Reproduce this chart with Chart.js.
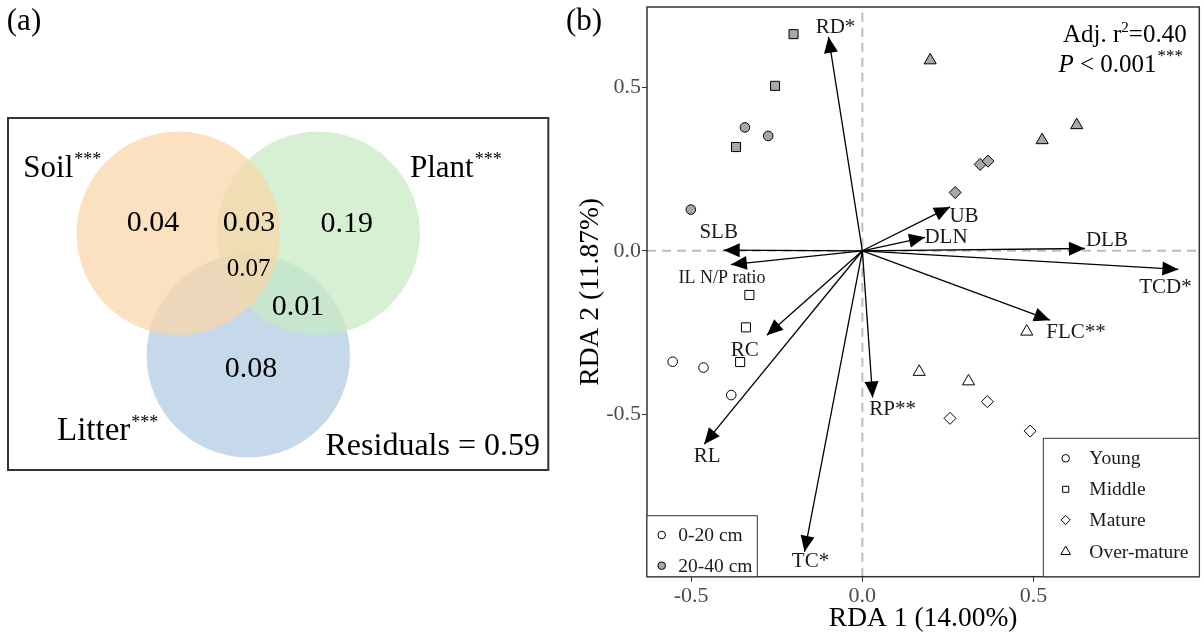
<!DOCTYPE html>
<html>
<head>
<meta charset="utf-8">
<script src="https://cdn.jsdelivr.net/npm/chart.js@4.4.0/dist/chart.umd.min.js"></script>
<style>
  body { margin: 0; background: #fff; width: 1204px; height: 636px; overflow: hidden; position: relative; }
  #wrapA { position: absolute; left: 0; top: 0; }
  #wrapB { position: absolute; left: 560px; top: 0; }
</style>
</head>
<body>
<div id="wrapA"><canvas id="venn" width="560" height="636"></canvas></div>
<div id="wrapB"><canvas id="rda" width="644" height="636"></canvas></div>
<script>
const SERIF = '"Liberation Serif", "Times New Roman", serif';

// ---------- panel (a): variation partitioning
const vennSets = ['Soil', 'Plant', 'Litter'];
const vennSig = ['***', '***', '***'];
const vennFractions = ['0.04', '0.03', '0.19', '0.07', '0.01', '0.08'];
const vennResidual = '0.59';

// ---------- panel (b): RDA site scores (RDA1, RDA2)
const young020 = [[-0.554, -0.339], [-0.464, -0.357], [-0.383, -0.441]];
const young2040 = [[-0.343, 0.377], [-0.275, 0.351], [-0.501, 0.126]];
const middle020 = [[-0.330, -0.135], [-0.340, -0.234], [-0.357, -0.340]];
const middle2040 = [[-0.201, 0.662], [-0.255, 0.504], [-0.369, 0.317]];
const mature020 = [[0.365, -0.461], [0.256, -0.512], [0.490, -0.551]];
const mature2040 = [[0.344, 0.264], [0.367, 0.274], [0.271, 0.178]];
const over020 = [[0.166, -0.370], [0.310, -0.399], [0.480, -0.247]];
const over2040 = [[0.198, 0.582], [0.626, 0.384], [0.525, 0.338]];

// environmental vectors
const envNames = ['RD*', 'SLB', 'IL N/P ratio', 'UB', 'DLN', 'DLB', 'TCD*', 'FLC**', 'RC', 'RL', 'TC*', 'RP**'];
const envRDA1 = [-0.099, -0.405, -0.384, 0.256, 0.183, 0.650, 0.923, 0.548, -0.279, -0.462, -0.169, 0.030];
const envRDA2 = [0.654, 0.002, -0.042, 0.134, 0.041, 0.007, -0.057, -0.212, -0.258, -0.591, -0.920, -0.448];

const ageGroups = ['Young', 'Middle', 'Mature', 'Over-mature'];
const depthGroups = ['0-20 cm', '20-40 cm'];
const xTicks = [-0.5, 0.0, 0.5];
const yTicks = [-0.5, 0.0, 0.5];
const xTitle = 'RDA 1 (14.00%)';
const yTitle = 'RDA 2 (11.87%)';

// ---------- layout / styles
const xRange = [-0.629, 0.984];
const yRange = [-0.996, 0.745];
const shapes = { 'Young': ['circle', 4.8], 'Middle': ['rect', 6.4], 'Mature': ['rectRot', 6], 'Over-mature': ['triangle', 7] };
const depthFill = { '0-20 cm': '#ffffff', '20-40 cm': '#a8a8a8' };
const labelOffset = {
  'RD*': [7, -9], 'SLB': [-5, -18], 'IL N/P ratio': [-9, 14], 'UB': [14, 10], 'DLN': [21, 0],
  'DLB': [22, -8], 'TCD*': [-13, 18], 'FLC**': [26, 12], 'RC': [-22, 15], 'RL': [3, 12],
  'TC*': [6, 10], 'RP**': [20, 12]
};

// venn geometry in box units (pixels inside the frame)
const vennCircles = [[170.3, 115.3], [310.3, 115.3], [240.3, 237.7]];
const vennRadius = 101.7;
const vennColors = ['rgba(251,214,168,0.72)', 'rgba(200,234,196,0.72)', 'rgba(176,202,226,0.72)'];
const vennFracPos = [[145, 105, 30], [241, 105, 30], [338.7, 106, 30], [240.5, 151, 25], [290, 189, 30], [243, 251, 30]];
const vennLabelPos = [[15.3, 59, 31], [402, 58.7, 31], [49, 322, 33]];

// ---------- panel (a)
const vennText = {
  id: 'vennText',
  afterDraw(chart) {
    const { ctx, chartArea: a, scales: { x, y } } = chart;
    ctx.save();
    ctx.strokeStyle = '#333';
    ctx.lineWidth = 2;
    ctx.strokeRect(a.left, a.top, a.right - a.left, a.bottom - a.top);
    ctx.fillStyle = '#000';
    ctx.textAlign = 'center';
    ctx.textBaseline = 'middle';
    vennFractions.forEach((f, i) => {
      const p = vennFracPos[i];
      ctx.font = p[2] + 'px ' + SERIF;
      ctx.fillText(f, x.getPixelForValue(p[0]), y.getPixelForValue(p[1]));
    });
    ctx.textAlign = 'left';
    ctx.textBaseline = 'alphabetic';
    vennSets.forEach((s, i) => {
      const p = vennLabelPos[i];
      const px = x.getPixelForValue(p[0]), py = y.getPixelForValue(p[1]);
      ctx.font = p[2] + 'px ' + SERIF;
      ctx.fillText(s, px, py);
      const w = ctx.measureText(s).width;
      ctx.font = '18px ' + SERIF;
      ctx.fillText(vennSig[i], px + w + 1, py - 12);
    });
    ctx.textAlign = 'right';
    ctx.font = '32px ' + SERIF;
    ctx.fillText('Residuals = ' + vennResidual, x.getPixelForValue(532), y.getPixelForValue(337));
    ctx.textAlign = 'center';
    ctx.textBaseline = 'middle';
    ctx.font = '31px ' + SERIF;
    ctx.fillText('(a)', 24, 22);
    ctx.restore();
  }
};

new Chart(document.getElementById('venn'), {
  type: 'bubble',
  data: {
    datasets: vennSets.map((s, i) => ({
      label: s,
      data: [{ x: vennCircles[i][0], y: vennCircles[i][1], r: vennRadius }],
      backgroundColor: vennColors[i],
      borderWidth: 0,
      clip: false
    }))
  },
  options: {
    responsive: false,
    animation: false,
    events: [],
    layout: { autoPadding: false, padding: { left: 8, top: 118, right: 11.7, bottom: 166 } },
    plugins: { legend: { display: false }, tooltip: { enabled: false } },
    scales: {
      x: { display: false, min: 0, max: 540.3 },
      y: { display: false, min: 0, max: 352, reverse: true }
    }
  },
  plugins: [vennText]
});

// ---------- panel (b)
function drawSymbol(ctx, style, r, x, y, fill) {
  ctx.save();
  ctx.fillStyle = fill;
  ctx.strokeStyle = '#000';
  ctx.lineWidth = 1;
  if (Chart.helpers && Chart.helpers.drawPoint) {
    Chart.helpers.drawPoint(ctx, { pointStyle: style, radius: r, rotation: 0, borderWidth: 1 }, x, y);
  } else {
    ctx.beginPath();
    ctx.arc(x, y, r, 0, Math.PI * 2);
    ctx.fill();
    ctx.stroke();
  }
  ctx.restore();
}

const rdaDecor = {
  id: 'rdaDecor',
  afterDatasetsDraw(chart) {
    const { ctx } = chart;
    ctx.save();
    // arrow heads and labels
    chart.data.datasets.forEach((ds, i) => {
      if (!ds.envName) return;
      const pts = chart.getDatasetMeta(i).data;
      const p0 = pts[0], p1 = pts[1];
      const ang = Math.atan2(p1.y - p0.y, p1.x - p0.x);
      const L = 16, W = 7;
      ctx.fillStyle = '#000';
      ctx.beginPath();
      ctx.moveTo(p1.x, p1.y);
      ctx.lineTo(p1.x - L * Math.cos(ang) + W * Math.sin(ang), p1.y - L * Math.sin(ang) - W * Math.cos(ang));
      ctx.lineTo(p1.x - L * Math.cos(ang) - W * Math.sin(ang), p1.y - L * Math.sin(ang) + W * Math.cos(ang));
      ctx.closePath();
      ctx.fill();
      const off = labelOffset[ds.envName];
      ctx.fillStyle = '#1a1a1a';
      ctx.font = (ds.envName === 'IL N/P ratio' ? '18px ' : '21px ') + SERIF;
      ctx.textAlign = 'center';
      ctx.textBaseline = 'middle';
      ctx.fillText(ds.envName, p1.x + off[0], p1.y + off[1]);
    });
    ctx.restore();
  },
  afterDraw(chart) {
    const { ctx, chartArea: a } = chart;
    ctx.save();
    // frame
    ctx.strokeStyle = '#333';
    ctx.lineWidth = 1.5;
    ctx.strokeRect(a.left, a.top, a.right - a.left, a.bottom - a.top);

    // depth legend (bottom-left)
    ctx.fillStyle = '#fff';
    ctx.lineWidth = 1;
    ctx.fillRect(a.left, 515.7, 110.3, a.bottom - 515.7);
    ctx.strokeRect(a.left, 515.7, 110.3, a.bottom - 515.7);
    ctx.font = '19.5px ' + SERIF;
    ctx.textAlign = 'left';
    ctx.textBaseline = 'middle';
    depthGroups.forEach((d, i) => {
      const yy = [535, 565.7][i];
      drawSymbol(ctx, 'circle', 3.8, 101.7, yy, depthFill[d]);
      ctx.fillStyle = '#1a1a1a';
      ctx.fillText(d, 118.3, yy + 1);
    });

    // age legend (bottom-right)
    ctx.fillStyle = '#fff';
    ctx.fillRect(483.3, 438.3, a.right - 483.3, a.bottom - 438.3);
    ctx.strokeStyle = '#333';
    ctx.strokeRect(483.3, 438.3, a.right - 483.3, a.bottom - 438.3);
    const legR = { 'Young': 3.8, 'Middle': 4.3, 'Mature': 4.6, 'Over-mature': 5.6 };
    ageGroups.forEach((g, i) => {
      const yy = [458.3, 489.3, 520, 551.7][i];
      drawSymbol(ctx, shapes[g][0], legR[g], 505.7, yy, '#fff');
      ctx.fillStyle = '#1a1a1a';
      ctx.fillText(g, 529.3, yy + 1);
    });

    // fit statistics
    ctx.fillStyle = '#000';
    ctx.textAlign = 'right';
    ctx.textBaseline = 'alphabetic';
    ctx.font = '25px ' + SERIF;
    let xr = 626.7;
    ctx.fillText('=0.40', xr, 41.7);
    xr -= ctx.measureText('=0.40').width;
    ctx.font = '15px ' + SERIF;
    ctx.fillText('2', xr, 32);
    xr -= ctx.measureText('2').width;
    ctx.font = '25px ' + SERIF;
    ctx.fillText('Adj. r', xr, 41.7);

    xr = 623;
    ctx.font = '17px ' + SERIF;
    ctx.fillText('***', xr, 61);
    xr -= ctx.measureText('***').width + 1;
    ctx.font = '25px ' + SERIF;
    ctx.fillText(' < 0.001', xr, 71.7);
    xr -= ctx.measureText(' < 0.001').width;
    ctx.font = 'italic 25px ' + SERIF;
    ctx.fillText('P', xr, 71.7);

    ctx.textAlign = 'center';
    ctx.textBaseline = 'middle';
    ctx.font = '31px ' + SERIF;
    ctx.fillText('(b)', 24, 22);
    ctx.restore();
  }
};

const siteGroups = [
  ['Young', '0-20 cm', young020], ['Young', '20-40 cm', young2040],
  ['Middle', '0-20 cm', middle020], ['Middle', '20-40 cm', middle2040],
  ['Mature', '0-20 cm', mature020], ['Mature', '20-40 cm', mature2040],
  ['Over-mature', '0-20 cm', over020], ['Over-mature', '20-40 cm', over2040]
];

const datasets = [];
// dashed zero lines
datasets.push({
  data: [{ x: xRange[0], y: 0 }, { x: xRange[1], y: 0 }],
  showLine: true, pointRadius: 0, borderColor: '#bdbdbd', borderWidth: 2, borderDash: [9, 6], order: 20
});
datasets.push({
  data: [{ x: 0, y: yRange[0] }, { x: 0, y: yRange[1] }],
  showLine: true, pointRadius: 0, borderColor: '#bdbdbd', borderWidth: 2, borderDash: [9, 6], order: 20
});
// vectors
envNames.forEach((n, i) => {
  datasets.push({
    envName: n,
    data: [{ x: 0, y: 0 }, { x: envRDA1[i], y: envRDA2[i] }],
    showLine: true, pointRadius: 0, borderColor: '#000', borderWidth: 1.3, order: 10
  });
});
// sites
siteGroups.forEach(([age, depth, pts]) => {
  datasets.push({
    label: age + ' ' + depth,
    data: pts.map(p => ({ x: p[0], y: p[1] })),
    showLine: false,
    pointStyle: shapes[age][0],
    pointRadius: shapes[age][1],
    backgroundColor: depthFill[depth],
    borderColor: '#000',
    borderWidth: 1,
    order: 1
  });
});

new Chart(document.getElementById('rda'), {
  type: 'scatter',
  data: { datasets },
  options: {
    responsive: false,
    animation: false,
    events: [],
    layout: { autoPadding: false, padding: { left: 0, top: 7, right: 4.7, bottom: 0 } },
    plugins: { legend: { display: false }, tooltip: { enabled: false } },
    scales: {
      x: {
        type: 'linear', min: xRange[0], max: xRange[1],
        afterFit: s => { s.height = 59.3; s.paddingLeft = 0; s.paddingRight = 0; },
        afterBuildTicks: s => { s.ticks = xTicks.map(v => ({ value: v })); },
        ticks: { font: { family: SERIF, size: 22 }, color: '#4d4d4d', padding: 1, callback: v => v.toFixed(1) },
        grid: { drawOnChartArea: false, drawTicks: true, tickLength: 5, color: '#333' },
        border: { display: false },
        title: { display: true, text: xTitle, font: { family: SERIF, size: 27.5 }, color: '#000', padding: { top: 0, bottom: 1 } }
      },
      y: {
        type: 'linear', min: yRange[0], max: yRange[1],
        afterFit: s => { s.width = 87; s.paddingTop = 0; s.paddingBottom = 0; },
        afterBuildTicks: s => { s.ticks = yTicks.map(v => ({ value: v })); },
        ticks: { font: { family: SERIF, size: 22 }, color: '#4d4d4d', padding: 1, callback: v => v.toFixed(1) },
        grid: { drawOnChartArea: false, drawTicks: true, tickLength: 5, color: '#333' },
        border: { display: false },
        title: { display: true, text: yTitle, font: { family: SERIF, size: 27.5 }, color: '#000', padding: { top: 14, bottom: 0 } }
      }
    }
  },
  plugins: [rdaDecor]
});
</script>
</body>
</html>
